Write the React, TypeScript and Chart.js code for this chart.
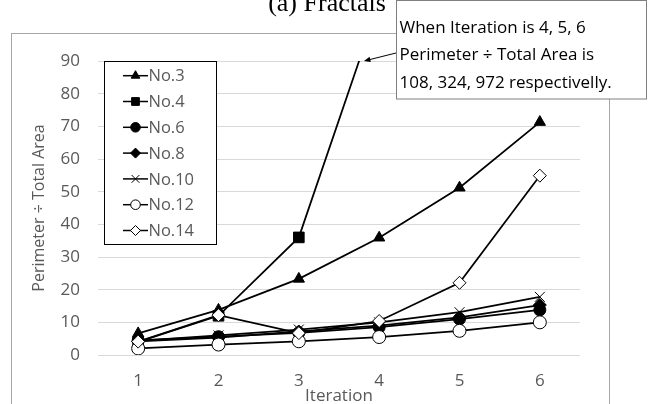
import React, { useEffect, useRef } from 'react';
import { Chart, registerables } from 'chart.js';
import { drawPoint } from 'chart.js/helpers';

Chart.register(...registerables);

// ---- data ----
const iterations = ['1', '2', '3', '4', '5', '6'];
const seriesNames = ['No.3', 'No.4', 'No.6', 'No.8', 'No.10', 'No.12', 'No.14'];
const no3 = [6.6, 13.8, 23.3, 35.9, 51.2, 71.3];
const no4 = [4, 12, 36, 108, 324, 972];
const no6 = [4.5, 5.6, 6.8, 8.5, 11.0, 13.8];
const no8 = [4.2, 5.3, 7.2, 9.0, 11.5, 15.3];
const no10 = [4.3, 6.0, 7.8, 10.0, 13.1, 17.8];
const no12 = [2.0, 3.2, 4.2, 5.5, 7.4, 10.0];
const no14 = [4.1, 12.2, 6.7, 10.4, 22.1, 54.9];
const yMin = 0;
const yMax = 90;
const yStep = 10;
const titleText = '(a) Fractals';
const yTitle = 'Perimeter ÷ Total Area';
const xTitle = 'Iteration';
const calloutLines = [
  'When Iteration is 4, 5, 6',
  'Perimeter ÷ Total Area is',
  '108, 324, 972 respectivelly.',
];

const seriesValues = [no3, no4, no6, no8, no10, no12, no14];
const pointStyles = ['triangle', 'rect', 'circle', 'rectRot', 'crossRot', 'circle', 'rectRot'];
const pointFills = ['#000000', '#000000', '#000000', '#000000', '#000000', '#ffffff', '#ffffff'];
const pointRadii = [6.5, 7.5, 6, 6.5, 7, 6.5, 6.5];
const legendRadii = [5, 5.5, 4.8, 5, 5.5, 4.8, 5];

const FONT = "'Open Sans', 'Liberation Sans', sans-serif";
const GRAY = '#595959';

const decorPlugin = {
  id: 'decor',
  beforeDraw(chart: any) {
    const ctx = chart.ctx;
    ctx.save();
    ctx.fillStyle = '#ffffff';
    ctx.fillRect(0, 0, chart.width, chart.height);
    ctx.strokeStyle = '#a6a6a6';
    ctx.lineWidth = 1;
    ctx.strokeRect(11.5, 33.5, 598, 420);
    // title (partially cut off at the top)
    ctx.fillStyle = '#000000';
    ctx.font = "26px 'Liberation Serif', 'DejaVu Serif', serif";
    ctx.textAlign = 'center';
    ctx.textBaseline = 'alphabetic';
    ctx.fillText(titleText, 327, 11);
    ctx.restore();
  },
  afterDraw(chart: any) {
    const ctx = chart.ctx;
    ctx.save();
    // legend box
    const lx = 104.5, ly = 61.5, lw = 112, lh = 183;
    ctx.fillStyle = '#ffffff';
    ctx.fillRect(lx, ly, lw, lh);
    ctx.strokeStyle = '#000000';
    ctx.lineWidth = 1;
    ctx.strokeRect(lx, ly, lw, lh);
    ctx.font = `16.5px ${FONT}`;
    ctx.textBaseline = 'middle';
    ctx.textAlign = 'left';
    seriesNames.forEach((name, i) => {
      const y = 75.7 + i * 25.8;
      ctx.strokeStyle = '#000000';
      ctx.lineWidth = 1.5;
      ctx.beginPath();
      ctx.moveTo(123, y);
      ctx.lineTo(148, y);
      ctx.stroke();
      ctx.fillStyle = pointFills[i];
      ctx.strokeStyle = '#000000';
      ctx.lineWidth = 1;
      drawPoint(ctx, { pointStyle: pointStyles[i], radius: legendRadii[i], rotation: 0, borderWidth: 1 }, 135.5, y);
      ctx.fillStyle = GRAY;
      ctx.fillText(name, 148.5, y + 1);
    });
    // callout arrow
    ctx.strokeStyle = '#000000';
    ctx.fillStyle = '#000000';
    ctx.lineWidth = 1;
    const ax0 = 396, ay0 = 53, ax1 = 364, ay1 = 61;
    ctx.beginPath();
    ctx.moveTo(ax0, ay0);
    ctx.lineTo(ax1 + 4, ay1 - 1);
    ctx.stroke();
    const ang = Math.atan2(ay1 - ay0, ax1 - ax0);
    ctx.beginPath();
    ctx.moveTo(ax1, ay1);
    ctx.lineTo(ax1 - 7 * Math.cos(ang - 0.4), ay1 - 7 * Math.sin(ang - 0.4));
    ctx.lineTo(ax1 - 7 * Math.cos(ang + 0.4), ay1 - 7 * Math.sin(ang + 0.4));
    ctx.closePath();
    ctx.fill();
    // callout box
    ctx.fillStyle = '#ffffff';
    ctx.fillRect(396.5, 0.5, 250, 98.5);
    ctx.strokeStyle = '#7f7f7f';
    ctx.strokeRect(396.5, 0.5, 250, 98.5);
    ctx.fillStyle = '#000000';
    ctx.font = `17px ${FONT}`;
    ctx.textBaseline = 'middle';
    calloutLines.forEach((t, i) => ctx.fillText(t, 399.5, 28 + i * 27.5));
    ctx.restore();
  },
};

export default function App() {
  const ref = useRef<HTMLCanvasElement | null>(null);
  useEffect(() => {
    if (!ref.current) return;
    const chart = new Chart(ref.current, {
      type: 'line',
      data: {
        labels: iterations,
        datasets: seriesValues.map((vals, i) => ({
          label: seriesNames[i],
          data: vals,
          borderColor: '#000000',
          borderWidth: 1.75,
          backgroundColor: pointFills[i],
          pointStyle: pointStyles[i] as any,
          pointRadius: pointRadii[i],
          pointBackgroundColor: pointFills[i],
          pointBorderColor: '#000000',
          pointBorderWidth: 1,
          fill: false,
          tension: 0,
          order: seriesValues.length - i,
        })),
      },
      options: {
        responsive: false,
        animation: false,
        events: [],
        layout: { padding: { left: 0, top: 61, right: 69, bottom: 0 } },
        plugins: { legend: { display: false }, tooltip: { enabled: false }, title: { display: false } },
        scales: {
          x: {
            offset: true,
            grid: { display: false, drawTicks: false },
            border: { display: false },
            ticks: { color: GRAY, font: { family: FONT, size: 17 }, padding: 16 },
            title: {
              display: true,
              text: xTitle,
              color: GRAY,
              font: { family: FONT, size: 17, lineHeight: 1 },
              padding: { top: 0, bottom: -1 },
            },
            afterFit: (s: any) => { s.height = 49; },
          },
          y: {
            min: yMin,
            max: yMax,
            grid: { color: '#d9d9d9', lineWidth: 1, drawTicks: false },
            border: { display: false },
            ticks: { stepSize: yStep, color: GRAY, font: { family: FONT, size: 17 }, padding: 18 },
            title: {
              display: true,
              text: yTitle,
              color: GRAY,
              font: { family: FONT, size: 16, lineHeight: 1.2 },
              padding: { top: 30, bottom: 0 },
            },
            afterFit: (s: any) => { s.width = 98; },
          },
        },
      },
      plugins: [decorPlugin],
    });
    return () => chart.destroy();
  }, []);
  return (
    <div style={{ position: 'absolute', left: 0, top: 0, width: 649, height: 404, overflow: 'hidden' }}>
      <canvas ref={ref} width={649} height={404} style={{ width: 649, height: 404, display: 'block' }} />
    </div>
  );
}
